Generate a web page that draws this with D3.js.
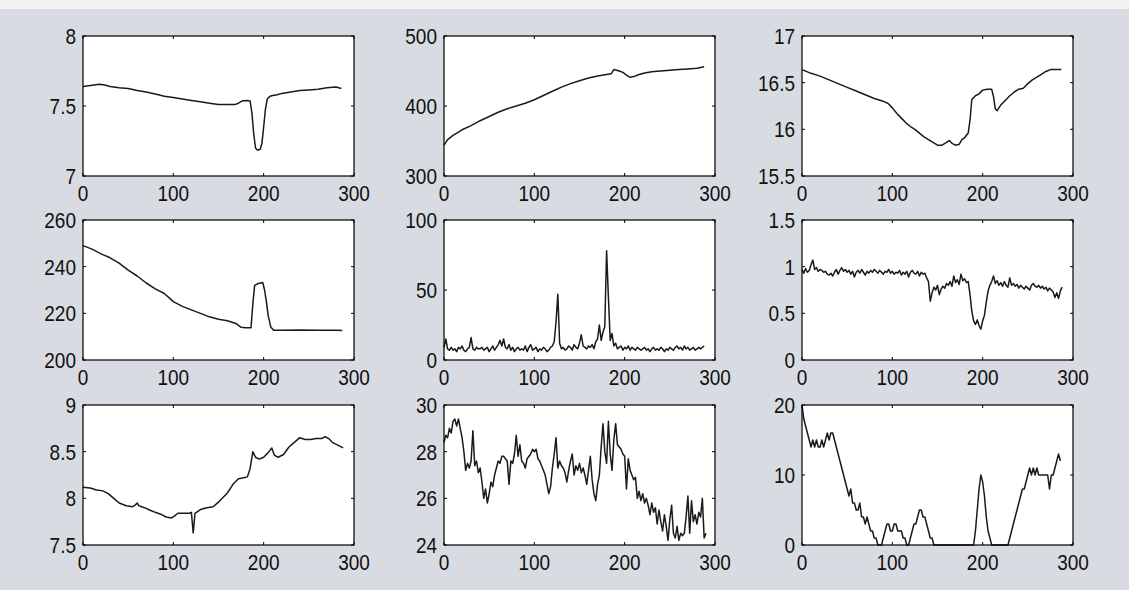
<!DOCTYPE html>
<html><head><meta charset="utf-8">
<script src="https://cdn.jsdelivr.net/npm/d3@7/dist/d3.min.js"></script>
<style>body{margin:0;background:#f1f1f1}svg{display:block}</style>
</head><body>
<svg id="chart" width="1129" height="590"></svg>
<script>
// ---------- data ----------
const xTicks = [0, 100, 200, 300];
const xDomain = [0, 300];

// panel 1 (smooth, key points)
const p1X = [0,6,12,18,24,30,40,50,60,70,80,90,100,110,120,130,140,150,160,168,172,176,182,185,187,189,191,193,196,198,200,202,204,207,210,215,220,230,240,250,260,270,280,286];
const p1Y = [7.64,7.645,7.65,7.655,7.65,7.64,7.63,7.625,7.61,7.6,7.585,7.57,7.56,7.55,7.54,7.53,7.52,7.51,7.51,7.51,7.52,7.535,7.54,7.535,7.45,7.3,7.2,7.185,7.19,7.23,7.35,7.48,7.55,7.57,7.575,7.58,7.59,7.6,7.61,7.615,7.62,7.63,7.635,7.625];
const p1Ticks = [7, 7.5, 8];

// panel 2
const p2X = [0,4,10,20,30,40,50,60,70,80,90,100,110,120,130,140,150,160,170,180,185,188,191,194,198,202,206,210,216,222,230,240,250,260,270,280,288];
const p2Y = [344,352,358,366,372,379,385,391,396,400,404,409,415,421,427,432,436,440,443,445,446,452,451,450,448,444,441,442,445,447,449,450,451,452,453,454,456];
const p2Ticks = [300, 400, 500];

// panel 3
const p3X = [0,10,20,30,40,50,60,70,80,90,95,100,105,110,115,120,125,130,135,140,145,150,155,160,163,166,170,174,177,180,184,186,188,192,196,200,205,210,212,214,216,220,225,230,235,240,245,250,255,260,265,270,275,280,287];
const p3Y = [16.64,16.6,16.57,16.53,16.49,16.45,16.41,16.37,16.33,16.3,16.28,16.23,16.17,16.12,16.07,16.03,16.0,15.96,15.92,15.89,15.86,15.83,15.83,15.86,15.88,15.85,15.83,15.84,15.89,15.91,15.96,16.1,16.32,16.36,16.38,16.42,16.43,16.43,16.35,16.22,16.2,16.26,16.31,16.36,16.4,16.43,16.44,16.49,16.53,16.56,16.59,16.62,16.64,16.64,16.64];
const p3Ticks = [15.5, 16, 16.5, 17];

// panel 4
const p4X = [0,10,20,30,40,50,60,70,80,90,100,110,120,130,140,150,160,170,175,180,186,188,190,194,199,201,203,205,208,211,220,240,260,280,287];
const p4Y = [249,247.5,245.5,243.8,241.5,238.5,236,233,230.5,228.5,225,223,221.5,220,218.5,217.5,216.8,215.5,214,213.8,213.8,224,232,232.8,233.2,230,225,219,214,212.8,212.8,212.9,212.8,212.8,212.6];
const p4Ticks = [200, 220, 240, 260];

// noisy panels: one sample every 2 time units, starting at 0
const sampleStep = 2;
const p5Y = [9,15,8,7,9,7,8,6,9,8,10,7,6,8,9,16,8,7,9,8,8,9,7,8,9,6,8,10,7,9,11,14,10,15,9,8,11,7,9,6,8,9,7,8,7,10,6,9,11,7,8,9,6,8,7,9,8,6,7,9,10,13,27,47,12,8,9,7,8,10,9,7,11,9,8,12,18,10,9,8,10,9,11,8,13,15,25,14,20,24,78,45,14,19,10,12,8,9,10,7,9,8,10,7,9,8,7,9,8,7,8,9,7,8,6,8,9,7,8,7,9,8,6,8,7,9,8,7,9,10,8,9,7,10,8,9,7,8,9,7,8,9,8,9,10];
const p5Ticks = [0, 50, 100];

const p6Y = [0.97,0.93,0.98,0.94,0.96,1.02,1.07,0.97,0.99,0.95,0.97,0.96,0.94,0.95,0.92,0.91,0.93,0.9,0.94,0.97,0.92,0.96,0.99,0.95,0.97,0.94,0.96,0.92,0.95,0.89,0.94,0.96,0.93,0.97,0.94,0.91,0.95,0.93,0.96,0.94,0.97,0.95,0.93,0.96,0.94,0.92,0.95,0.94,0.97,0.93,0.95,0.92,0.94,0.93,0.96,0.91,0.94,0.92,0.95,0.89,0.94,0.96,0.93,0.92,0.95,0.9,0.94,0.92,0.93,0.88,0.84,0.63,0.72,0.78,0.75,0.8,0.7,0.76,0.79,0.77,0.82,0.8,0.84,0.79,0.9,0.83,0.86,0.81,0.92,0.85,0.87,0.83,0.84,0.7,0.52,0.42,0.38,0.43,0.37,0.33,0.42,0.48,0.62,0.74,0.8,0.84,0.9,0.82,0.85,0.8,0.83,0.79,0.84,0.8,0.78,0.88,0.8,0.82,0.79,0.81,0.77,0.8,0.78,0.76,0.79,0.77,0.75,0.8,0.82,0.79,0.78,0.8,0.77,0.79,0.76,0.78,0.74,0.77,0.75,0.73,0.67,0.72,0.66,0.74,0.78];
const p6Ticks = [0, 0.5, 1, 1.5];

// panel 7
const p7X = [0,8,15,22,28,34,40,48,55,58,60,62,68,75,80,86,92,98,101,105,112,118,120,122,124,130,137,144,150,155,160,166,172,178,182,185,188,191,195,200,205,209,212,216,222,228,234,240,246,252,258,264,268,272,276,282,288];
const p7Y = [8.12,8.11,8.09,8.08,8.05,8.0,7.95,7.92,7.91,7.93,7.95,7.92,7.9,7.87,7.85,7.83,7.8,7.79,7.81,7.84,7.84,7.84,7.85,7.63,7.84,7.88,7.9,7.91,7.96,8.01,8.06,8.15,8.21,8.22,8.23,8.32,8.5,8.44,8.42,8.44,8.49,8.54,8.46,8.44,8.47,8.55,8.6,8.65,8.63,8.63,8.64,8.64,8.66,8.64,8.6,8.57,8.54];
const p7Ticks = [7.5, 8, 8.5, 9];

const p8Y = [28.4,28.7,28.6,29.0,28.8,29.3,29.4,29.1,29.4,29.0,28.6,28.0,27.2,27.5,27.3,27.6,28.9,27.4,27.6,27.1,27.3,26.7,26.0,26.4,25.8,26.2,26.7,26.5,27.0,27.3,27.6,27.5,27.8,27.8,27.7,27.6,26.6,27.6,27.5,27.9,28.7,27.8,28.3,27.6,27.5,27.3,27.7,27.8,27.9,28.1,28.0,28.1,27.7,27.6,27.4,27.2,27.0,26.6,26.2,26.5,27.3,27.9,28.6,27.3,27.6,27.4,27.3,27.1,26.7,27.2,27.6,27.9,27.0,27.4,27.2,27.5,27.1,27.3,27.0,26.6,27.2,27.8,26.8,26.2,25.9,26.6,27.0,28.2,29.2,28.0,27.5,29.3,27.9,27.2,28.5,29.2,28.3,28.2,28.1,27.9,27.8,26.4,27.7,27.2,27.0,26.8,26.9,26.0,26.3,25.9,26.2,25.8,26.0,25.7,25.3,25.8,25.4,25.6,24.9,25.5,25.0,24.6,25.3,24.8,24.2,25.1,25.7,24.5,24.3,24.8,24.2,24.5,24.4,24.5,25.2,26.1,24.5,25.9,25.0,25.3,24.9,25.4,25.2,26.0,24.3,24.5];
const p8Ticks = [24, 26, 28, 30];

const p9Y = [20,18,17,16,15,14,15,14,15,14,14,15,14,15,16,15,16,16,15,14,13,12,11,10,9,8,7,8,6,6,5,5,6,4,4,3,4,3,2,2,1,1,0,0,0,1,2,3,3,2,2,3,3,2,2,2,1,1,0,0,1,2,3,3,4,5,5,4,4,3,2,1,1,0,0,0,0,0,0,0,0,0,0,0,0,0,0,0,0,0,0,0,0,0,0,0,2,5,8,10,9,7,4,2,1,0,0,0,0,0,0,0,0,0,0,1,2,3,4,5,6,7,8,8,9,10,11,10,11,10,11,10,10,10,10,10,10,8,10,10,11,12,13,12];
const p9Ticks = [0, 10, 20];

// ---------- chart ----------
const svg = d3.select('#chart');
svg.append('rect').attr('x', 0).attr('y', 9).attr('width', 1129).attr('height', 581).attr('fill', '#d8dbe2');

const colLeft = [83, 444, 802];
const rowTop = [36, 220, 405];
const W = 271, H = 140;

function sampled(ys) { return ys.map((v, i) => [i * sampleStep, v]); }
function paired(xs, ys) { return xs.map((v, i) => [v, ys[i]]); }

const panels = [
  {pts: paired(p1X, p1Y), dom: [7, 8], ticks: p1Ticks},
  {pts: paired(p2X, p2Y), dom: [300, 500], ticks: p2Ticks},
  {pts: paired(p3X, p3Y), dom: [15.5, 17], ticks: p3Ticks},
  {pts: paired(p4X, p4Y), dom: [200, 260], ticks: p4Ticks},
  {pts: sampled(p5Y), dom: [0, 100], ticks: p5Ticks},
  {pts: sampled(p6Y), dom: [0, 1.5], ticks: p6Ticks},
  {pts: paired(p7X, p7Y), dom: [7.5, 9], ticks: p7Ticks},
  {pts: sampled(p8Y), dom: [24, 30], ticks: p8Ticks},
  {pts: sampled(p9Y), dom: [0, 20], ticks: p9Ticks}
];

const fontSize = 19, stretch = 1.2, capH = 0.716 * fontSize * stretch;

panels.forEach((p, i) => {
  const L = colLeft[i % 3], T = rowTop[Math.floor(i / 3)];
  const x = d3.scaleLinear().domain(xDomain).range([L, L + W]);
  const y = d3.scaleLinear().domain(p.dom).range([T + H, T]);
  const g = svg.append('g');
  g.append('rect').attr('x', L).attr('y', T).attr('width', W).attr('height', H).attr('fill', '#fff');
  g.append('path').datum(p.pts)
    .attr('d', d3.line().x(d => x(d[0])).y(d => y(d[1])))
    .attr('fill', 'none').attr('stroke', '#1a1a1a').attr('stroke-width', 1.5).attr('stroke-linejoin', 'round');
  // ticks on all 4 sides, inward
  const tk = 3;
  xTicks.forEach(t => {
    g.append('line').attr('x1', x(t)).attr('x2', x(t)).attr('y1', T + H).attr('y2', T + H - tk).attr('stroke', '#000');
    g.append('line').attr('x1', x(t)).attr('x2', x(t)).attr('y1', T).attr('y2', T + tk).attr('stroke', '#000');
    g.append('text').attr('transform', `translate(${x(t)},${T + H + 9 + capH}) scale(1,${stretch})`)
      .attr('text-anchor', 'middle').text(t);
  });
  p.ticks.forEach(t => {
    g.append('line').attr('x1', L).attr('x2', L + tk).attr('y1', y(t)).attr('y2', y(t)).attr('stroke', '#000');
    g.append('line').attr('x1', L + W).attr('x2', L + W - tk).attr('y1', y(t)).attr('y2', y(t)).attr('stroke', '#000');
    g.append('text').attr('transform', `translate(${L - 7},${y(t) + capH / 2}) scale(1,${stretch})`)
      .attr('text-anchor', 'end').text(t);
  });
  g.append('rect').attr('x', L).attr('y', T).attr('width', W).attr('height', H)
    .attr('fill', 'none').attr('stroke', '#000').attr('stroke-width', 1.2);
  g.selectAll('text').attr('font-family', 'Liberation Sans, Arial, sans-serif').attr('font-size', fontSize).attr('fill', '#111');
});
</script>
</body></html>
